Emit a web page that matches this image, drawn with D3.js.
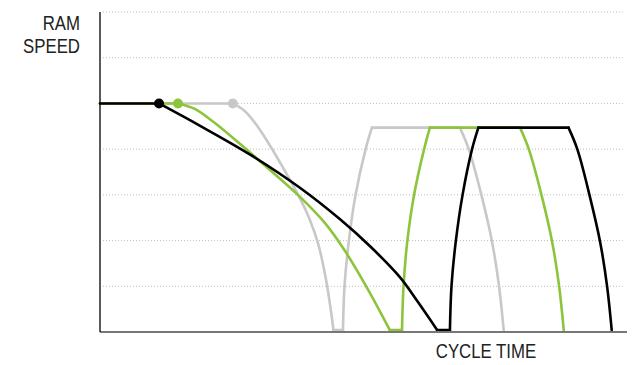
<!DOCTYPE html>
<html>
<head>
<meta charset="utf-8">
<script src="https://cdn.jsdelivr.net/npm/d3@7"></script>
<style>
  body { margin: 0; background: #fff; }
  .label { font-family: "Liberation Sans", Arial, sans-serif; font-size: 21px; fill: #222; }
</style>
</head>
<body>
<script>
// RAM speed vs cycle time

// Series values (x: cycle time units 0-100, y: speed units 0-7)
var blackX = [0, 11.2, 19.0, 28.5, 38.0, 45.5, 51.2, 56.9, 60.3, 64.0, 66.4, 66.7, 67.5, 68.8, 70.6, 71.8, 88.9, 90.6, 93.0, 94.9, 96.2, 97.1];
var blackY = [5, 5, 4.51, 3.88, 3.15, 2.47, 1.88, 1.20, 0.66, 0.04, 0.04, 1.01, 1.97, 3.0, 4.0, 4.47, 4.47, 3.99, 2.94, 1.97, 1.02, 0.04];

var greenX = [0, 14.8, 18.0, 21.8, 26.6, 32.3, 38.0, 42.7, 46.5, 50.7, 55.0, 57.3, 57.6, 58.3, 59.6, 61.5, 62.6, 79.7, 81.4, 83.9, 85.8, 87.1, 88.0];
var greenY = [5, 5, 4.88, 4.57, 4.11, 3.54, 2.95, 2.38, 1.77, 0.96, 0.04, 0.04, 1.01, 1.97, 3.0, 4.0, 4.47, 4.47, 3.99, 2.94, 1.97, 1.02, 0.04];

var grayX = [0, 25.2, 27.5, 30.0, 32.3, 35.1, 37.6, 39.7, 41.4, 42.9, 43.8, 44.3, 46.1, 46.4, 47.2, 48.5, 50.4, 51.6, 68.3, 70.0, 72.5, 74.4, 75.7, 76.6];
var grayY = [5, 5, 4.83, 4.48, 4.07, 3.52, 3.0, 2.49, 1.93, 1.14, 0.48, 0.04, 0.04, 1.01, 1.97, 3.0, 4.0, 4.47, 4.47, 3.99, 2.94, 1.97, 1.02, 0.04];

// index of the knee dot on each series
var kneeIndex = 1;

// grid levels
var gridLevels = [1, 2, 3, 4, 5, 6, 7];

var yLabel = ["RAM", "SPEED"];
var xLabel = "CYCLE TIME";

var width = 634;
var height = 365;

var svg = d3.select('body').append('svg')
    .attr('width', width)
    .attr('height', height);

// scales
var x = d3.scaleLinear().domain([0, 100]).range([100, 627]);
var y = d3.scaleLinear().domain([0, 7]).range([332, 12]);

// dotted grid lines
svg.append('g').selectAll('line')
    .data(gridLevels)
    .enter().append('line')
    .attr('x1', x(0) + 3)
    .attr('x2', x(99.2))
    .attr('y1', function(d) { return y(d); })
    .attr('y2', function(d) { return y(d); })
    .attr('stroke', '#bdbdbd')
    .attr('stroke-width', 1)
    .attr('stroke-dasharray', '1,2');

// build series
function zip(xs, ys) {
    return xs.map(function(v, i) { return [v, ys[i]]; });
}

// split a series into flat runs and curved runs, so corners stay sharp
function pieces(pts) {
    var out = [];
    var cur = [pts[0]];
    var curFlat = pts[1][1] === pts[0][1];
    for (var i = 1; i < pts.length; i++) {
        var flat = pts[i][1] === pts[i - 1][1];
        if (flat !== curFlat) {
            out.push({ flat: curFlat, pts: cur });
            cur = [pts[i - 1]];
            curFlat = flat;
        }
        cur.push(pts[i]);
    }
    out.push({ flat: curFlat, pts: cur });
    return out;
}

var series = [
    { name: 'gray', color: '#c8c8c8', pts: zip(grayX, grayY) },
    { name: 'green', color: '#8dc43d', pts: zip(greenX, greenY) },
    { name: 'black', color: '#000000', pts: zip(blackX, blackY) }
];

var flatLine = d3.line()
    .x(function(d) { return x(d[0]); })
    .y(function(d) { return y(d[1]); });

var curveLine = d3.line()
    .x(function(d) { return x(d[0]); })
    .y(function(d) { return y(d[1]); })
    .curve(d3.curveCatmullRom.alpha(0.5));

series.forEach(function(s) {
    var g = svg.append('g')
        .attr('class', s.name)
        .attr('fill', 'none')
        .attr('stroke', s.color)
        .attr('stroke-width', 2.6)
        .attr('stroke-linecap', 'round')
        .attr('stroke-linejoin', 'round');

    g.selectAll('path')
        .data(pieces(s.pts))
        .enter().append('path')
        .attr('d', function(p) { return p.flat ? flatLine(p.pts) : curveLine(p.pts); });
});

// knee dots
series.forEach(function(s) {
    var p = s.pts[kneeIndex];
    svg.append('circle')
        .attr('cx', x(p[0]))
        .attr('cy', y(p[1]))
        .attr('r', 5)
        .attr('fill', s.color);
});

// axes
svg.append('line')
    .attr('x1', x(0)).attr('x2', x(100))
    .attr('y1', y(0)).attr('y2', y(0))
    .attr('stroke', '#777')
    .attr('stroke-width', 2);

svg.append('line')
    .attr('x1', x(0)).attr('x2', x(0))
    .attr('y1', y(7)).attr('y2', y(0))
    .attr('stroke', '#000')
    .attr('stroke-width', 1.3);

// labels (horizontally squeezed to look like a narrow face)
var yText = svg.append('text')
    .attr('class', 'label')
    .attr('text-anchor', 'end')
    .attr('transform', 'translate(80,0) scale(0.8,1)');

yText.selectAll('tspan')
    .data(yLabel)
    .enter().append('tspan')
    .attr('x', 0)
    .attr('y', function(d, i) { return 30 + i * 23; })
    .text(function(d) { return d; });

svg.append('text')
    .attr('class', 'label')
    .attr('text-anchor', 'middle')
    .attr('transform', 'translate(486,358) scale(0.8,1)')
    .text(xLabel);
</script>
</body>
</html>
